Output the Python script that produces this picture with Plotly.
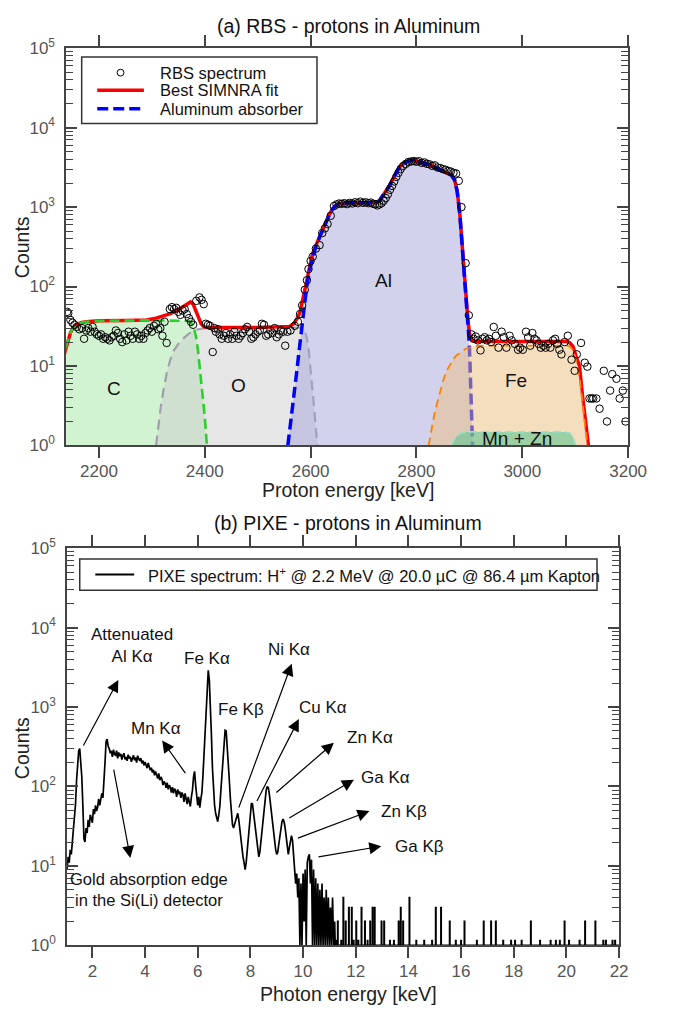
import numpy as np
import plotly.graph_objects as go

W, H = 687, 1018
FONT = "Liberation Sans, Arial, sans-serif"

# ---------------- Panel (a) data: RBS ----------------
rbs_energy = [
    2140, 2142, 2146, 2150, 2154, 2158, 2163, 2168, 2172, 2176,
    2180, 2184, 2188, 2192, 2196, 2200, 2204, 2208, 2212, 2216,
    2220, 2224, 2228, 2232, 2236, 2240, 2244, 2248, 2252, 2256,
    2260, 2264, 2268, 2272, 2276, 2280, 2284, 2288, 2292, 2296,
    2300, 2304, 2308, 2312, 2316, 2320, 2324, 2328, 2334, 2338,
    2342, 2346, 2350, 2354, 2358, 2362, 2366, 2370, 2374, 2378,
    2384, 2390, 2394, 2398, 2402, 2406, 2410, 2415, 2418, 2421,
    2425, 2428, 2432, 2436, 2440, 2444, 2448, 2452, 2456, 2460,
    2464, 2468, 2472, 2476, 2480, 2484, 2488, 2492, 2496, 2500,
    2504, 2508, 2512, 2516, 2520, 2524, 2528, 2532, 2536, 2540,
    2544, 2548, 2552, 2556, 2562, 2570, 2576, 2580, 2584, 2589,
    2593, 2596, 2600, 2604, 2610, 2617, 2622, 2627, 2632, 2638,
    2644, 2649, 2654, 2659, 2664, 2669, 2674, 2679, 2684, 2689,
    2694, 2699, 2704, 2709, 2714, 2718, 2722, 2726, 2730, 2734,
    2738, 2742, 2746, 2750, 2754, 2758, 2762, 2766, 2770, 2775,
    2780, 2785, 2790, 2795, 2800, 2805, 2810, 2815, 2820, 2825,
    2830, 2835, 2840, 2845, 2850, 2855, 2860, 2865, 2870, 2875,
    2880, 2885, 2893, 2899, 2904, 2908, 2912, 2916, 2921, 2925,
    2929, 2933, 2937, 2941, 2946, 2950, 2955, 2961, 2965, 2970,
    2976, 2980, 2986, 2992, 2996, 3001, 3007, 3011, 3015, 3019,
    3023, 3027, 3031, 3035, 3040, 3044, 3049, 3053, 3058, 3062,
    3066, 3070, 3074, 3080, 3086, 3093, 3099, 3103, 3111, 3118,
    3123, 3127, 3131, 3134, 3140, 3146, 3154, 3160, 3166, 3170,
    3178, 3184, 3190, 3195]
rbs_counts = [
    48, 46, 38, 35, 33, 31, 29, 30, 22, 28,
    30, 27, 31, 27, 25, 24, 25, 22, 23, 22,
    21, 23, 24, 28, 26, 22, 20, 25, 21, 27,
    24, 22, 27, 25, 22, 24, 22, 26, 28, 30,
    27, 32, 34, 29, 30, 24, 36, 19.5, 52, 55,
    52, 54, 48, 44, 50, 52, 45, 40, 36, 33,
    66, 73, 68, 60, 34, 33, 32, 15, 30, 27,
    29, 25, 22, 24, 26, 22, 25, 22, 27, 24,
    22, 24, 26, 29, 31, 27, 22, 23, 25, 27,
    28, 34, 33, 24, 25, 28, 26, 30, 23, 25,
    28, 27, 18, 27, 28, 32, 36, 45, 58, 91,
    120, 166, 210, 238, 300, 332, 471, 540, 613, 777,
    1030, 1080, 1110, 1100, 1120, 1090, 1130, 1110, 1150, 1120,
    1170, 1130, 1150, 1120, 1140, 1100, 1090, 1050, 1080, 1120,
    1200, 1300, 1450, 1650, 1850, 2100, 2400, 2700, 3000, 3300,
    3500, 3700, 3750, 3800, 3720, 3780, 3600, 3650, 3500, 3450,
    3300, 3350, 3150, 3100, 3000, 2950, 2850, 2800, 2700, 2650,
    2140, 1000, 197, 43.5, 25, 22, 23.5, 21, 15.7, 22,
    23, 21, 22, 20, 31, 24, 17, 27, 23, 17,
    24, 21, 19, 16, 17, 16, 27, 23, 18, 26,
    22, 21, 19, 17, 18, 17, 19, 17, 21, 22,
    19, 16, 14, 20, 24, 12, 8.7, 14, 19.5, 11,
    9.8, 3.9, 3.9, 3.9, 3.9, 2.9, 8.7, 2, 4.9, 7.9,
    6.9, 3.9, 4.9, 2]

fit_energy = [
    2130, 2136, 2140, 2146, 2152, 2158, 2166, 2176, 2200, 2250,
    2290, 2305, 2320, 2335, 2350, 2360, 2368, 2373, 2378, 2383,
    2388, 2393, 2399, 2410, 2500, 2550, 2560, 2568, 2575, 2580,
    2586, 2592, 2598, 2604, 2610, 2617, 2623, 2629, 2635, 2641,
    2647, 2653, 2660, 2670, 2690, 2710, 2722, 2730, 2738, 2744,
    2750, 2756, 2762, 2768, 2775, 2781, 2787, 2795, 2805, 2815,
    2825, 2833, 2842, 2851, 2860, 2866, 2872, 2877, 2882, 2886,
    2891, 2894, 2897, 2900, 2904, 2910, 3000, 3085, 3090, 3096,
    3102, 3108, 3114, 3120, 3125]
fit_counts = [
    11, 15, 20, 26, 31, 33, 35, 36, 37, 37.5,
    38, 39.5, 42, 45.5, 51, 57, 62, 64, 60, 50,
    40, 34, 31, 30.5, 30.5, 30.8, 31.5, 34, 40, 48,
    70, 112, 175, 262, 330, 420, 530, 674, 800, 938,
    1040, 1100, 1120, 1130, 1135, 1135, 1140, 1200, 1436, 1650,
    1907, 2300, 2782, 3200, 3525, 3750, 3873, 3850, 3700, 3560,
    3420, 3206, 3000, 2837, 2680, 2531, 2198, 1578, 813, 348,
    163, 76.6, 40, 26, 21.5, 20.4, 20.4, 20.4, 19.5, 17.5,
    13, 10, 4.1, 1.75, 1]

c_energy = [2130, 2136, 2140, 2146, 2152, 2158, 2166, 2176, 2200, 2300,
            2370, 2378, 2384, 2387, 2390, 2393, 2397, 2400, 2404]
c_counts = [11, 15, 20, 26, 31, 33, 35, 36, 37, 37.5,
            37, 33, 22.4, 16, 10.5, 6.5, 4.1, 2.3, 1]

o_energy = [2308, 2312, 2317, 2323, 2329, 2335, 2341, 2350, 2360, 2370,
            2378, 2388, 2397, 2420, 2500, 2583, 2588, 2592, 2596, 2598,
            2601, 2604, 2607, 2610, 2613]
o_counts = [1, 1.8, 3.1, 5.4, 8.7, 12, 15.4, 19, 22.4, 25.5,
            27.6, 29, 29.8, 30.3, 30.5, 30.5, 28, 24, 17, 12.7,
            8, 4.9, 2.8, 1.6, 1]

al_energy = [2557, 2561, 2565, 2569, 2574, 2578, 2583, 2587, 2592, 2598,
             2604, 2610, 2617, 2623, 2629, 2635, 2641, 2647, 2653, 2660,
             2670, 2690, 2710, 2722, 2730, 2738, 2744, 2750, 2756, 2762,
             2768, 2775, 2781, 2787, 2795, 2805, 2815, 2825, 2833, 2842,
             2851, 2860, 2866, 2872, 2877, 2882, 2886, 2891, 2894, 2897,
             2900, 2902, 2904, 2906]
al_counts = [1, 1.6, 2.55, 4.2, 8.7, 15, 29.8, 50, 92.7, 160,
             238, 320, 420, 530, 643, 790, 938, 1040, 1100, 1120,
             1130, 1133, 1133, 1138, 1200, 1436, 1650, 1907, 2300, 2782,
             3200, 3525, 3750, 3873, 3850, 3700, 3560, 3420, 3206, 3000,
             2837, 2680, 2531, 2198, 1578, 813, 348, 163, 76.6, 36,
             18.6, 7.2, 2.8, 1]

fe_energy = [2823, 2828, 2833, 2839, 2845, 2851, 2857, 2863, 2869, 2875,
             2882, 2888, 2894, 2900, 2906, 2920, 3000, 3085, 3090, 3095,
             3099, 3104, 3108, 3112, 3115, 3119, 3123]
fe_counts = [1, 1.6, 2.3, 3.4, 4.9, 6.7, 8.7, 10.5, 12.1, 13.5,
             14.7, 15.8, 16.6, 17.2, 17.7, 18, 18, 18, 17.5, 16,
             14, 10, 7.2, 4.5, 3.1, 1.8, 1]

mnzn_energy = [2866, 2872, 2878, 2884, 2895, 3080, 3090, 3095, 3098, 3101]
mnzn_counts = [1, 1.2, 1.35, 1.42, 1.48, 1.48, 1.42, 1.3, 1.15, 1]

region_names = ["C", "O", "Al", "Fe", "Mn + Zn"]
region_energy = [2228, 2463, 2738, 2989, 2990]
region_counts = [5.18, 5.64, 120.5, 6.5, 1.23]

# ---------------- Panel (b) data: PIXE ----------------
pixe_start_keV = 1.04
pixe_step_keV = 0.04
pixe_counts = [
    9, 13, 11, 16, 14, 20, 24, 37, 60, 120,
    200, 280, 300, 220, 130, 55, 22, 20, 30, 26,
    38, 31, 44, 40, 35, 52, 45, 58, 49, 55,
    70, 58, 66, 82, 72, 110, 200, 370, 395, 320,
    300, 262, 280, 236, 290, 255, 248, 282, 226, 268,
    240, 258, 218, 246, 262, 220, 236, 210, 252, 225,
    238, 205, 228, 248, 214, 232, 200, 244, 222, 210,
    228, 196, 212, 185, 204, 190, 170, 198, 176, 160,
    172, 150, 162, 138, 155, 142, 126, 146, 120, 132,
    124, 104, 116, 110, 96, 112, 92, 104, 98, 84,
    98, 82, 94, 88, 74, 92, 80, 86, 72, 84,
    78, 64, 82, 70, 60, 74, 66, 56, 74, 90,
    130, 155, 105, 76, 58, 74, 54, 70, 85, 140,
    280, 560, 1150, 2300, 2900, 2200, 1150, 450, 170, 75,
    58, 46, 38, 36, 44, 56, 90, 150, 250, 410,
    510, 500, 340, 215, 120, 70, 45, 33, 30, 34,
    38, 44, 46, 38, 28, 20, 15, 13, 11, 9,
    11, 16, 24, 36, 50, 62, 60, 46, 34, 24,
    19, 15, 13, 15, 20, 24, 32, 48, 70, 90,
    100, 96, 80, 62, 44, 32, 26, 20, 16, 14,
    15, 19, 24, 30, 36, 39, 36, 30, 23, 17,
    14, 17, 21, 24, 21, 15, 9, 6, 8, 4,
    7, 1, 6, 1, 8, 2, 9, 1, 11, 13,
    14, 6, 12, 1, 9, 1, 7, 1, 6, 1,
    5, 1, 6, 1, 4, 1, 5, 1, 4, 1,
    3, 1, 4, 1, 2]

spike_energy = [11.32, 11.53, 11.62, 11.74, 11.85, 12.02, 12.22, 12.35, 12.55, 12.64,
                12.72, 12.98, 13.08, 13.63, 13.71, 13.80, 14.04, 15.04, 15.24, 15.57,
                16.13, 16.86, 17.14, 17.32, 18.65, 19.93, 20.71, 21.10,
                11.26, 11.45, 11.92, 12.10, 12.45, 13.30, 13.45, 14.30, 14.60, 14.90,
                15.80, 16.00, 16.60, 17.60, 17.90, 18.05, 18.30, 19.00, 19.40, 19.60,
                19.75, 20.10, 20.50, 21.40, 21.50, 21.75, 21.85]
spike_counts = [2, 4, 2, 3, 3, 2, 3, 2, 2, 3,
                3, 2, 2, 2, 3, 2, 4, 3, 3, 2,
                2, 2, 2, 2, 2, 2, 2, 2,
                1.15, 1.15, 1.15, 1.15, 1.15, 1.15, 1.15, 1.15, 1.15, 1.15,
                1.15, 1.15, 1.15, 1.15, 1.15, 1.15, 1.15, 1.15, 1.15, 1.15,
                1.15, 1.15, 1.15, 1.15, 1.15, 1.15, 1.15]

peak_names = ["Attenuated<br>Al Kα", "Gold absorption edge<br>in the Si(Li) detector",
              "Mn Kα", "Fe Kα", "Fe Kβ", "Ni Kα", "Cu Kα", "Zn Kα", "Ga Kα", "Zn Kβ", "Ga Kβ"]
peak_label_energy = [3.51, 4.14, 4.40, 6.36, 7.65, 9.46, 10.75, 12.56, 13.12, 13.82, 14.44]
peak_label_counts = [6000, 5.06, 535, 4030, 918, 5350, 973, 414, 129, 49, 17.7]

arrow_head_energy = [2.985, 3.44, 4.65, 9.57, 9.84, 11.17, 11.93, 12.52, 12.97]
arrow_head_counts = [2193, 12.6, 380, 3520, 705, 356, 122, 49, 17.7]
arrow_tail_energy = [1.63, 2.80, 5.57, 7.54, 8.22, 8.93, 9.42, 9.75, 10.53]
arrow_tail_counts = [315, 170, 141, 52, 63, 81, 39, 22, 12.9]

x_ticks_a = [2200, 2400, 2600, 2800, 3000, 3200]
x_ticks_b = [2, 4, 6, 8, 10, 12, 14, 16, 18, 20, 22]


# ---------------- helpers ----------------
def pxx(p):
    return p / W


def pxy(p):
    return 1 - p / H


def polygon(e, c):
    return list(e) + [e[-1], e[0]], list(c) + [1, 1]


fig = go.Figure()


def add_fill(e, c, color, xa="x", ya="y"):
    xs, ys = polygon(e, c)
    fig.add_trace(go.Scatter(x=xs, y=ys, xaxis=xa, yaxis=ya, mode="lines", fill="toself",
                             fillcolor=color, line=dict(width=0), hoverinfo="skip",
                             showlegend=False))


def add_line(e, c, color, width, dash, xa="x", ya="y"):
    fig.add_trace(go.Scatter(x=e, y=c, xaxis=xa, yaxis=ya, mode="lines",
                             line=dict(color=color, width=width, dash=dash),
                             hoverinfo="skip", showlegend=False))


# fills and curves (panel a)
add_fill(c_energy, c_counts, "rgba(165,231,165,0.5)")
add_fill(o_energy, o_counts, "rgba(205,205,205,0.5)")
add_line(o_energy, o_counts, "rgb(160,160,172)", 2.2, "10px,6px")
add_fill(al_energy, al_counts, "rgba(160,160,215,0.48)")
add_line(fit_energy, fit_counts, "rgb(250,0,0)", 3.5, "solid")
add_line(c_energy, c_counts, "rgb(40,210,40)", 2.6, "10px,5px")
add_line(al_energy, al_counts, "rgb(0,0,255)", 3.5, "11px,5px")
add_fill(fe_energy, fe_counts, "rgba(235,189,125,0.5)")
add_line(fe_energy, fe_counts, "rgb(255,128,0)", 1.8, "8px,5px")
add_fill(mnzn_energy, mnzn_counts, "rgba(97,197,147,0.6)")
add_line(mnzn_energy, mnzn_counts, "rgb(150,225,200)", 1.6, "8px,4px")

fig.add_trace(go.Scatter(x=rbs_energy, y=rbs_counts, xaxis="x", yaxis="y", mode="markers",
                         marker=dict(symbol="circle-open", size=7.5, color="black",
                                     line=dict(width=1, color="black")),
                         hoverinfo="skip", showlegend=False))

# PIXE spectrum (panel b)
pixe_energy = [round(pixe_start_keV + pixe_step_keV * i, 3) for i in range(len(pixe_counts))]
px_e = list(pixe_energy)
px_c = list(pixe_counts)
px_e.append(11.22)
px_c.append(1)
for e, c in sorted(zip(spike_energy, spike_counts)):
    px_e += [e - 0.006, e - 0.006, e + 0.006, e + 0.006]
    px_c += [1, c, c, 1]
px_e.append(22.0)
px_c.append(1)
fig.add_trace(go.Scatter(x=px_e, y=px_c, xaxis="x2", yaxis="y2", mode="lines",
                         line=dict(color="black", width=1.7), hoverinfo="skip",
                         showlegend=False))

# ---------------- axes ----------------
minor_vals = [m * 10 ** k for k in range(5) for m in range(2, 10)]


def x_style(domain, anchor, rng, ticks):
    return dict(domain=domain, anchor=anchor, range=rng, tickmode="array", tickvals=ticks,
                ticks="outside", ticklen=11, tickwidth=1.5, tickcolor="#444",
                showline=True, linecolor="#444", linewidth=1.5, mirror="ticks",
                showgrid=False, zeroline=False, ticklabelstandoff=-2,
                tickfont=dict(family=FONT, size=17, color="#555"))


def y_style(domain, anchor):
    return dict(domain=domain, anchor=anchor, type="log", range=[0, 5], tickmode="array",
                tickvals=[1, 10, 100, 1000, 1e4, 1e5],
                ticktext=["10<sup>%d</sup>" % k for k in range(6)],
                ticks="inside", ticklen=11, tickwidth=1.5, tickcolor="#444",
                minor=dict(tickmode="array", tickvals=minor_vals, ticks="inside",
                           ticklen=7, tickwidth=1.2, tickcolor="#444"),
                showline=True, linecolor="#444", linewidth=1.5, mirror="ticks",
                showgrid=False, zeroline=False, ticklabelstandoff=6,
                tickfont=dict(family=FONT, size=17, color="#555"))


fig.update_layout(
    width=W, height=H, margin=dict(l=0, r=0, t=0, b=0),
    paper_bgcolor="white", plot_bgcolor="white", showlegend=False,
    font=dict(family=FONT, color="#111"),
    xaxis=x_style([pxx(68), pxx(646)], "y", [2138, 3200], x_ticks_a),
    yaxis=y_style([pxy(443), pxy(37)], "x"),
    xaxis2=x_style([pxx(69), pxx(636.7)], "y2", [1.04, 22], x_ticks_b),
    yaxis2=y_style([pxy(954), pxy(548)], "x2"),
)

ann = []
shapes = []


def paper_text(text, x, y, size, angle=0, color="#111", xanchor="center"):
    ann.append(dict(text=text, x=pxx(x), y=pxy(y), xref="paper", yref="paper",
                    showarrow=False, xanchor=xanchor, yanchor="middle", textangle=angle,
                    font=dict(family=FONT, size=size, color=color)))


paper_text("(a) RBS - protons in Aluminum", 358, 14, 19.5)
paper_text("Proton energy [keV]", 358, 489, 19.5, color="#222")
paper_text("Counts", 22, 240, 19.5, angle=-90, color="#222")
paper_text("(b) PIXE - protons in Aluminum", 358, 522, 19.5)
paper_text("Photon energy [keV]", 358, 1004, 19.5, color="#222")
paper_text("Counts", 22, 752, 19.5, angle=-90, color="#222")

# region labels panel (a)
for name, e, c in zip(region_names, region_energy, region_counts):
    ann.append(dict(text=name, x=e, y=np.log10(c), xref="x", yref="y", showarrow=False,
                    font=dict(family=FONT, size=19, color="#111")))

# peak labels panel (b)
for name, e, c in zip(peak_names, peak_label_energy, peak_label_counts):
    ann.append(dict(text=name, x=e, y=np.log10(c), xref="x2", yref="y2", showarrow=False,
                    font=dict(family=FONT, size=17 if "Gold" not in name else 16.5, color="#111")))

for he, hc, te, tc in zip(arrow_head_energy, arrow_head_counts, arrow_tail_energy, arrow_tail_counts):
    ann.append(dict(text="", x=he, y=np.log10(hc), ax=te, ay=np.log10(tc),
                    xref="x2", yref="y2", axref="x2", ayref="y2", showarrow=True,
                    arrowhead=2, arrowsize=2, arrowwidth=1.2, arrowcolor="black",
                    standoff=0, startstandoff=0))

# legend (a)
shapes.append(dict(type="rect", xref="paper", yref="paper", x0=pxx(84), x1=pxx(326),
                   y0=pxy(114), y1=pxy(46), line=dict(color="#333", width=1.5), fillcolor="white"))
shapes.append(dict(type="circle", xref="paper", yref="paper", x0=pxx(120.5), x1=pxx(127.5),
                   y0=pxy(65.5), y1=pxy(58.5), line=dict(color="black", width=1)))
shapes.append(dict(type="line", xref="paper", yref="paper", x0=pxx(100), x1=pxx(148),
                   y0=pxy(80), y1=pxy(80), line=dict(color="rgb(250,0,0)", width=3.5)))
shapes.append(dict(type="line", xref="paper", yref="paper", x0=pxx(100), x1=pxx(148),
                   y0=pxy(99), y1=pxy(99), line=dict(color="rgb(0,0,255)", width=3.5, dash="11px,5px")))
paper_text("RBS spectrum", 163, 62, 16.5, xanchor="left")
paper_text("Best SIMNRA fit", 163, 80, 16.5, xanchor="left")
paper_text("Aluminum absorber", 163, 99, 16.5, xanchor="left")

# legend (b)
shapes.append(dict(type="rect", xref="paper", yref="paper", x0=pxx(82), x1=pxx(614),
                   y0=pxy(591), y1=pxy(559), line=dict(color="#333", width=1.5), fillcolor="white"))
shapes.append(dict(type="line", xref="paper", yref="paper", x0=pxx(98), x1=pxx(138),
                   y0=pxy(575), y1=pxy(575), line=dict(color="black", width=2)))
paper_text("PIXE spectrum: H<sup>+</sup> @ 2.2 MeV @ 20.0 µC @ 86.4 µm Kapton", 150, 575, 16.5,
           xanchor="left")

fig.update_layout(annotations=ann, shapes=shapes)
fig.write_html("out.html")
